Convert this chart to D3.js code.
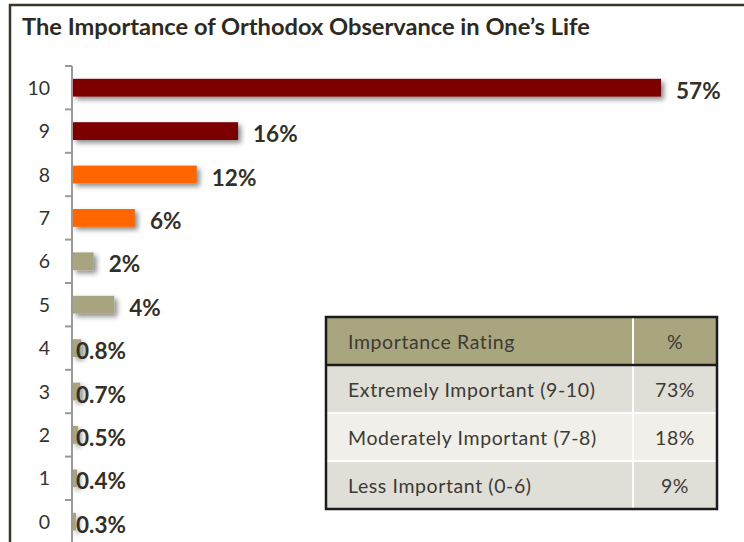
<!DOCTYPE html>
<html>
<head>
<meta charset="utf-8">
<script src="https://cdn.jsdelivr.net/npm/d3@7"></script>
<style>
  html, body { margin: 0; padding: 0; background: #fff; }
  svg { display: block; }
</style>
</head>
<body>
<svg id="chart" width="744" height="542"></svg>
<script>
// Ratings from most to least important, with the share of respondents (%)
const ratings = ["10", "9", "8", "7", "6", "5", "4", "3", "2", "1", "0"];
const shares = [57, 16, 12, 6, 2, 4, 0.8, 0.7, 0.5, 0.4, 0.3];
const shareLabels = ["57%", "16%", "12%", "6%", "2%", "4%", "0.8%", "0.7%", "0.5%", "0.4%", "0.3%"];
const ratingGroup = ["high", "high", "mid", "mid", "low", "low", "low", "low", "low", "low", "low"];

// Summary table
const tableHeader = ["Importance Rating", "%"];
const tableGroups = ["Extremely Important (9-10)", "Moderately Important (7-8)", "Less Important (0-6)"];
const tablePct = ["73%", "18%", "9%"];

const title = "The Importance of Orthodox Observance in One\u2019s Life";

const svg = d3.select("#chart");
const W = 744, H = 542;
const FONT = "Lato, 'Open Sans', sans-serif";

svg.append("rect").attr("width", W).attr("height", H).attr("fill", "#fff");

// Drop shadow used under the bars
const defs = svg.append("defs");
const f = defs.append("filter").attr("id", "barShadow")
  .attr("x", "-20%").attr("y", "-60%").attr("width", "150%").attr("height", "260%");
f.append("feDropShadow").attr("dx", 3).attr("dy", 3).attr("stdDeviation", 2.6)
  .attr("flood-color", "#000").attr("flood-opacity", 0.45);

// Outer frame (top and left edges)
svg.append("path")
  .attr("d", "M10,560 L10,5 L760,5")
  .attr("fill", "none").attr("stroke", "#3a3528").attr("stroke-width", 2.5);

// Fit a text element's font size so it spans a target width
function fitText(sel, target) {
  const node = sel.node();
  const base = parseFloat(sel.attr("font-size"));
  const len = node.getComputedTextLength();
  const size = len > 0 ? base * target / len : base;
  sel.attr("font-size", size.toFixed(2));
  return size;
}

// Title
const t = svg.append("text")
  .attr("x", 22).attr("y", 35)
  .attr("font-family", FONT).attr("font-weight", 700).attr("font-size", 22)
  .attr("fill", "#2e2a22")
  .text(title);
fitText(t, 568);

// Scales
const x = d3.scaleLinear().domain([0, 60]).range([73, 692]);
const y = d3.scaleBand().domain(ratings).range([66, 543.4])
  .paddingInner(0.59).paddingOuter(0.295);
const color = d3.scaleOrdinal().domain(["high", "mid", "low"])
  .range(["#7b0000", "#ff6600", "#a8a47e"]);

const data = ratings.map((r, i) => ({ r, v: shares[i], label: shareLabels[i], g: ratingGroup[i] }));

// Bars
svg.append("g").attr("filter", "url(#barShadow)")
  .selectAll("rect").data(data).join("rect")
  .attr("x", x(0))
  .attr("y", d => y(d.r))
  .attr("width", d => x(d.v) - x(0))
  .attr("height", y.bandwidth())
  .attr("fill", d => color(d.g));

// Category axis: labels at band centres, ticks on band boundaries
const ax0 = x(0) - 1;
const axis = svg.append("g").attr("transform", `translate(${ax0},0)`)
  .call(d3.axisLeft(y).tickSize(0).tickPadding(22));
axis.select(".domain").remove();
axis.selectAll("text")
  .attr("font-family", FONT).attr("font-size", 19.5).attr("fill", "#333")
  .attr("dy", "0.36em");

const step = y.step();
const bTop = y.range()[0];
const bounds = d3.range(ratings.length + 1).map(i => bTop + i * step);
const axisG = svg.append("g");
axisG.append("line")
  .attr("x1", ax0).attr("x2", ax0).attr("y1", bTop).attr("y2", H + 5)
  .attr("stroke", "#999").attr("stroke-width", 2);
axisG.selectAll("line.tick").data(bounds).join("line").attr("class", "tick")
  .attr("x1", ax0 - 7).attr("x2", ax0)
  .attr("y1", d => d).attr("y2", d => d)
  .attr("stroke", "#999").attr("stroke-width", 2);

// Value labels
svg.append("g").selectAll("text").data(data).join("text")
  .attr("x", d => d.v >= 2 ? x(d.v) + 15 : x(0) + 3)
  .attr("y", d => y(d.r) + y.bandwidth() / 2 + 3)
  .attr("dy", "0.36em")
  .attr("font-family", FONT).attr("font-weight", 700).attr("font-size", 22.5)
  .attr("fill", "#332f26")
  .text(d => d.label);

// Summary table
const tx = 326, ty = 317, tw = 391, colX = 633;
const rowH = 48;
const tbl = svg.append("g");
const rowFill = ["#a9a57f", "#e0dfd7", "#f0efea", "#e0dfd7"];
rowFill.forEach((c, i) => {
  tbl.append("rect").attr("x", tx).attr("y", ty + i * rowH)
    .attr("width", tw).attr("height", rowH).attr("fill", c);
});
// white separators
[2, 3].forEach(i => {
  tbl.append("line").attr("x1", tx).attr("x2", tx + tw)
    .attr("y1", ty + i * rowH).attr("y2", ty + i * rowH)
    .attr("stroke", "#fff").attr("stroke-width", 2);
});
tbl.append("line").attr("x1", colX).attr("x2", colX)
  .attr("y1", ty).attr("y2", ty + 4 * rowH)
  .attr("stroke", "#fff").attr("stroke-width", 2);
// header rule and border
tbl.append("line").attr("x1", tx).attr("x2", tx + tw)
  .attr("y1", ty + rowH).attr("y2", ty + rowH)
  .attr("stroke", "#1b1b1b").attr("stroke-width", 2.5);
tbl.append("rect").attr("x", tx).attr("y", ty).attr("width", tw).attr("height", 4 * rowH)
  .attr("fill", "none").attr("stroke", "#1b1b1b").attr("stroke-width", 2.5);

const rowsText = [[tableHeader[0], tableHeader[1]]].concat(tableGroups.map((g, i) => [g, tablePct[i]]));
const cells = [];
rowsText.forEach((row, i) => {
  const base = ty + i * rowH + rowH / 2 + 8;
  const c1 = tbl.append("text").attr("x", tx + 22).attr("y", base)
    .attr("font-family", FONT).attr("font-size", 19).attr("fill", "#3d3a33")
    .attr("letter-spacing", 0.6)
    .text(row[0]);
  const c2 = tbl.append("text").attr("x", (colX + tx + tw) / 2).attr("y", base)
    .attr("text-anchor", "middle")
    .attr("font-family", FONT).attr("font-size", 19).attr("fill", "#3d3a33")
    .attr("letter-spacing", 0.6)
    .text(row[1]);
  cells.push(c1, c2);
});
// size all cells from the widest label in the first column
const cellSize = fitText(cells[2], 248);
cells.forEach(c => c.attr("font-size", cellSize.toFixed(2)));
</script>
</body>
</html>
